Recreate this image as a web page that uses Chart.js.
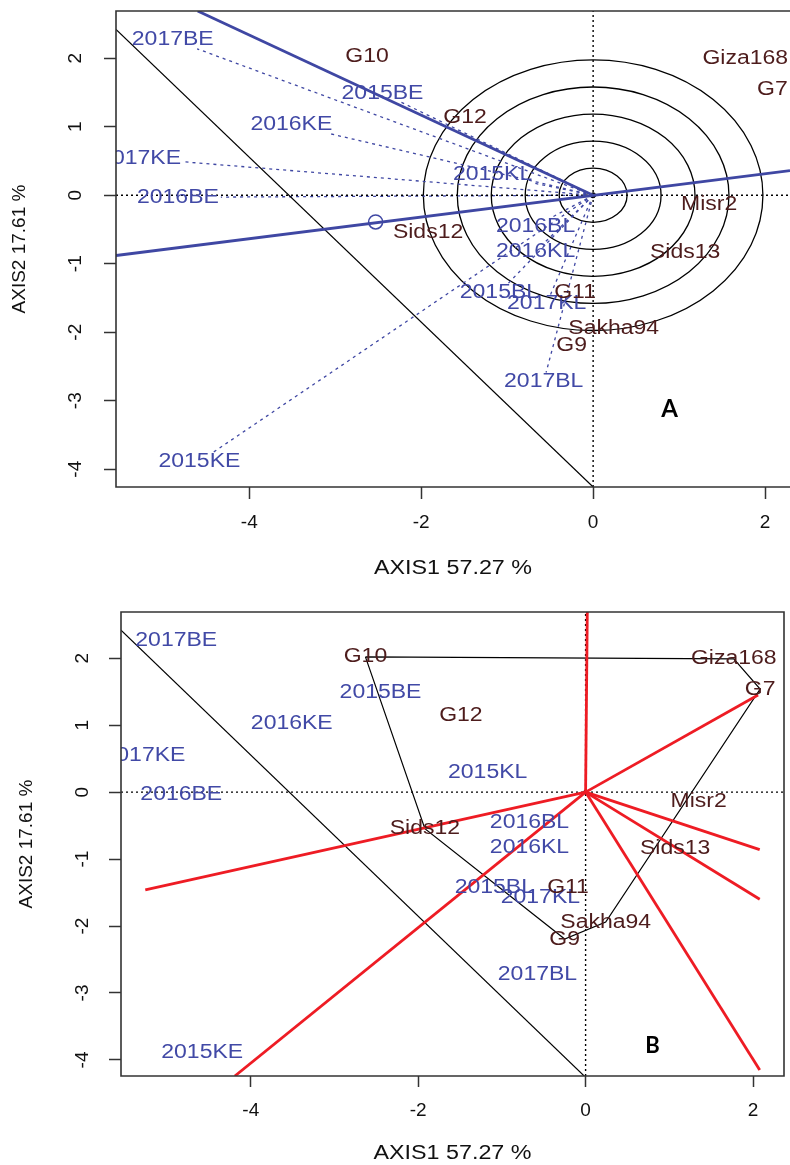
<!DOCTYPE html>
<html><head><meta charset="utf-8">
<script src="https://cdn.jsdelivr.net/npm/chart.js@4/dist/chart.umd.min.js"></script>
<style>
html,body{margin:0;padding:0;background:#fff;overflow:hidden;width:790px;height:1165px}
#pa{position:absolute;left:0;top:0}
#pb{position:absolute;left:0;top:585px}
</style></head><body>
<canvas id="pa" width="790" height="585"></canvas>
<canvas id="pb" width="790" height="580"></canvas>
<script>
// ---------- data ----------
const genotypes = ['G10','Giza168','G7','G12','Misr2','Sids12','Sids13','G11','Sakha94','G9'];
const genoPC1   = [-2.63, 1.77, 2.085, -1.49, 1.35, -1.92, 1.07, -0.21, 0.24, -0.25];
const genoPC2   = [ 2.02, 1.99, 1.54,  1.14, -0.135, -0.545, -0.84, -1.42, -1.94, -2.195];

const environments = ['2017BE','2015BE','2016KE','2017KE','2016BE','2015KL','2016BL','2016KL','2015BL','2017KL','2017BL','2015KE'];
const envPC1 = [-4.89, -2.45, -3.51, -5.27, -4.83, -1.17, -0.67, -0.67, -1.09, -0.54, -0.575, -4.58];
const envPC2 = [ 2.27,  1.49,  1.03,  0.54, -0.03,  0.30, -0.45, -0.82, -1.42, -1.58, -2.72, -3.89];

const xTicks = [-4, -2, 0, 2];
const yTicks = [-4, -3, -2, -1, 0, 1, 2];
const xTitle = 'AXIS1 57.27 %';
const yTitle = 'AXIS2 17.61 %';

const xRangeA = [-5.55, 2.29];
const yRangeA = [-4.26, 2.69];
const xRangeB = [-5.55, 2.37];
const yRangeB = [-4.24, 2.69];

// panel A: average-environment axis, its ordinate, the average environment mark, concentric rings
const aeaX = [-5.55, 2.29];
const aeaY = [-0.88, 0.36];
const ordX = [-4.60, 0];
const ordY = [2.69, 0];
const avgEnvX = [-2.53];
const avgEnvY = [-0.39];
const ringRadii = [0.395, 0.79, 1.185, 1.58, 1.975];

// black diagonal line (both panels)
const diagX = [-5.55, 0];
const diagY = [2.42, -4.26];

// panel B: convex hull and sector rays
const hullOrder = ['G10','Giza168','G7','Sakha94','G9','Sids12','G10'];
const rayX = [0.02, 2.06, 2.08, 2.08, 2.08, -5.26, -4.19];
const rayY = [2.69, 1.45, -0.86, -1.60, -4.15, -1.46, -4.24];

// ---------- styling ----------
const FONT = '"Liberation Sans", Arial, Helvetica, sans-serif';
const BLUE = '#3f47a3';
const ENVCOL = '#4149a6';
const GENCOL = '#4d1c1c';
const RED = '#ee1c24';
const STRETCH = 1.15;
Chart.defaults.font.family = FONT;
Chart.defaults.color = '#111';

const pts = (xs, ys) => xs.map((v, i) => ({x: v, y: ys[i]}));
function line(data, color, width, dash) {
  return {type: 'scatter', data, showLine: true, borderColor: color, borderWidth: width,
          borderDash: dash || [], pointRadius: 0, pointHoverRadius: 0, fill: false, clip: 0};
}

function drawText(ctx, t, px, py, color, stretch) {
  ctx.save();
  ctx.translate(px, py);
  ctx.scale(stretch, 1);
  ctx.fillStyle = color;
  ctx.textAlign = 'center';
  ctx.textBaseline = 'middle';
  ctx.fillText(t, 0, 0);
  ctx.restore();
}

const ggePlugin = {
  id: 'gge',
  beforeDatasetsDraw(chart, args, o) {
    const {ctx, chartArea: ca, scales: {x, y}} = chart;
    ctx.save();
    ctx.beginPath(); ctx.rect(ca.left, ca.top, ca.right - ca.left, ca.bottom - ca.top); ctx.clip();
    const cx = x.getPixelForValue(0), cy = y.getPixelForValue(0);
    if (o.rings) {
      ctx.strokeStyle = '#000'; ctx.lineWidth = 1.3; ctx.setLineDash([]);
      ringRadii.forEach(r => {
        const rx = Math.abs(x.getPixelForValue(r) - cx), ry = Math.abs(y.getPixelForValue(r) - cy);
        ctx.beginPath(); ctx.ellipse(cx, cy, rx, ry, 0, 0, 2 * Math.PI); ctx.stroke();
      });
    }
    if (o.vectors) {
      ctx.font = '20px ' + FONT;
      ctx.strokeStyle = BLUE; ctx.lineWidth = 1.3; ctx.setLineDash([3, 4]);
      environments.forEach((e, i) => {
        const px = x.getPixelForValue(envPC1[i]), py = y.getPixelForValue(envPC2[i]);
        const dx = px - cx, dy = py - cy, L = Math.hypot(dx, dy);
        const ux = dx / L, uy = dy / L;
        const hw = ctx.measureText(e).width * STRETCH / 2 + 2, hh = 9;
        const d = Math.min(Math.abs(ux) > 1e-6 ? hw / Math.abs(ux) : Infinity,
                           Math.abs(uy) > 1e-6 ? hh / Math.abs(uy) : Infinity);
        const L2 = Math.max(L - d, 0);
        ctx.beginPath(); ctx.moveTo(cx, cy); ctx.lineTo(cx + ux * L2, cy + uy * L2); ctx.stroke();
      });
    }
    ctx.restore();
  },
  afterDatasetsDraw(chart, args, o) {
    const {ctx, chartArea: ca, scales: {x, y}} = chart;
    ctx.save();
    ctx.beginPath(); ctx.rect(ca.left, ca.top, ca.right - ca.left, ca.bottom - ca.top); ctx.clip();
    ctx.font = '20px ' + FONT;
    environments.forEach((e, i) => drawText(ctx, e, x.getPixelForValue(envPC1[i]), y.getPixelForValue(envPC2[i]), ENVCOL, STRETCH));
    genotypes.forEach((g, i) => drawText(ctx, g, x.getPixelForValue(genoPC1[i]), y.getPixelForValue(genoPC2[i]), GENCOL, STRETCH));
    ctx.restore();
    // panel letter
    ctx.save();
    ctx.font = 'bold ' + o.letterSize + 'px Lato, "Open Sans", sans-serif';
    ctx.fillStyle = '#000'; ctx.textAlign = 'center'; ctx.textBaseline = 'middle';
    ctx.fillText(o.letter, x.getPixelForValue(o.letterAt[0]), y.getPixelForValue(o.letterAt[1]));
    ctx.restore();
    // x axis title (horizontally stretched like the reference)
    ctx.save();
    ctx.font = '20px ' + FONT;
    drawText(ctx, xTitle, (ca.left + ca.right) / 2, ca.bottom + o.xTitleGap, '#111', 1.165);
    ctx.restore();
    // frame
    ctx.save();
    ctx.strokeStyle = '#333'; ctx.lineWidth = 1.6; ctx.setLineDash([]);
    ctx.beginPath();
    if (o.fullBox) {
      ctx.rect(ca.left, ca.top, ca.right - ca.left, ca.bottom - ca.top);
    } else {
      ctx.moveTo(ca.right + 2, ca.top); ctx.lineTo(ca.left, ca.top);
      ctx.lineTo(ca.left, ca.bottom); ctx.lineTo(ca.right + 2, ca.bottom);
    }
    ctx.stroke();
    ctx.restore();
  }
};

function scalesFor(c) {
  return {
    x: {
      type: 'linear', position: 'bottom', min: c.xr[0], max: c.xr[1],
      afterBuildTicks: s => { s.ticks = xTicks.map(v => ({value: v})); },
      afterFit: s => { s.height = c.xh; s.paddingLeft = 0; s.paddingRight = 0; s.paddingTop = 0; s.paddingBottom = 0; },
      grid: {display: true, drawOnChartArea: false, drawTicks: true, tickLength: c.tl, tickColor: '#333', tickWidth: 1.5},
      border: {display: false},
      ticks: {font: {size: 19}, color: '#111', padding: 12, minRotation: 0, maxRotation: 0, autoSkip: false},
      title: {display: false, text: xTitle}
    },
    y: {
      type: 'linear', position: 'left', min: c.yr[0], max: c.yr[1],
      afterBuildTicks: s => { s.ticks = yTicks.map(v => ({value: v})); },
      afterFit: s => { s.width = c.yw; s.paddingLeft = 0; s.paddingRight = 0; s.paddingTop = 0; s.paddingBottom = 0; },
      grid: {display: true, drawOnChartArea: false, drawTicks: true, tickLength: 12, tickColor: '#333', tickWidth: 1.5},
      border: {display: false},
      ticks: {font: {size: 19}, color: '#111', padding: c.ypad, minRotation: 90, maxRotation: 90, crossAlign: 'center', autoSkip: false},
      title: {display: true, text: yTitle, font: {size: 19}, color: '#111', padding: {top: c.ytp, bottom: 0}}
    }
  };
}

const commonPlugins = {legend: {display: false}, tooltip: {enabled: false}};

// ---------- panel A ----------
const dsA = [
  line(pts(aeaX, aeaY), BLUE, 2.8),
  line(pts(ordX, ordY), BLUE, 2.8),
  {type: 'scatter', data: pts(avgEnvX, avgEnvY), showLine: false, pointRadius: 7, pointHoverRadius: 7, pointBorderColor: BLUE,
   pointBackgroundColor: 'rgba(0,0,0,0)', pointBorderWidth: 1.5, clip: 0},
  {type: 'scatter', data: [{x: 0, y: 0}], showLine: false, pointRadius: 2.5, pointHoverRadius: 2.5, pointBackgroundColor: '#000', pointBorderColor: '#000', clip: 0},
  line(pts(diagX, diagY), '#000', 1.2),
  line([{x: 0, y: yRangeA[0]}, {x: 0, y: yRangeA[1]}], '#000', 1.4, [2, 3]),
  line([{x: xRangeA[0], y: 0}, {x: xRangeA[1], y: 0}], '#000', 1.4, [2, 3])
];

new Chart(document.getElementById('pa'), {
  type: 'scatter',
  data: {datasets: dsA},
  options: {
    responsive: false, animation: false, devicePixelRatio: 1,
    layout: {autoPadding: false, padding: {top: 11, right: 0, bottom: 0, left: 0}},
    scales: scalesFor({xr: xRangeA, yr: yRangeA, xh: 98, yw: 116, tl: 12, ytp: 8.6, ypad: 20}),
    plugins: Object.assign({gge: {rings: true, vectors: true, letter: 'A', letterSize: 24, letterAt: [0.89, -3.12], fullBox: false, xTitleGap: 81}}, commonPlugins)
  },
  plugins: [ggePlugin]
});

// ---------- panel B ----------
const hullPts = hullOrder.map(g => { const i = genotypes.indexOf(g); return {x: genoPC1[i], y: genoPC2[i]}; });
const dsB = rayX.map((v, i) => line([{x: 0, y: 0}, {x: v, y: rayY[i]}], RED, 2.8)).concat([
  line(hullPts, '#000', 1.2),
  line(pts(diagX, diagY), '#000', 1.2),
  {type: 'scatter', data: [{x: 0, y: 0}], showLine: false, pointRadius: 2, pointHoverRadius: 2, pointBackgroundColor: '#000', pointBorderColor: '#000', clip: 0},
  line([{x: 0, y: yRangeB[0]}, {x: 0, y: yRangeB[1]}], '#000', 1.4, [2, 3]),
  line([{x: xRangeB[0], y: 0}, {x: xRangeB[1], y: 0}], '#000', 1.4, [2, 3])
]);

new Chart(document.getElementById('pb'), {
  type: 'scatter',
  data: {datasets: dsB},
  options: {
    responsive: false, animation: false, devicePixelRatio: 1,
    layout: {autoPadding: false, padding: {top: 27, right: 6, bottom: 0, left: 0}},
    scales: scalesFor({xr: xRangeB, yr: yRangeB, xh: 89, yw: 121, tl: 11, ytp: 15.3, ypad: 18}),
    plugins: Object.assign({gge: {rings: false, vectors: false, letter: 'B', letterSize: 22, letterAt: [0.80, -3.79], fullBox: true, xTitleGap: 77.6}}, commonPlugins)
  },
  plugins: [ggePlugin]
});
</script>
</body></html>
